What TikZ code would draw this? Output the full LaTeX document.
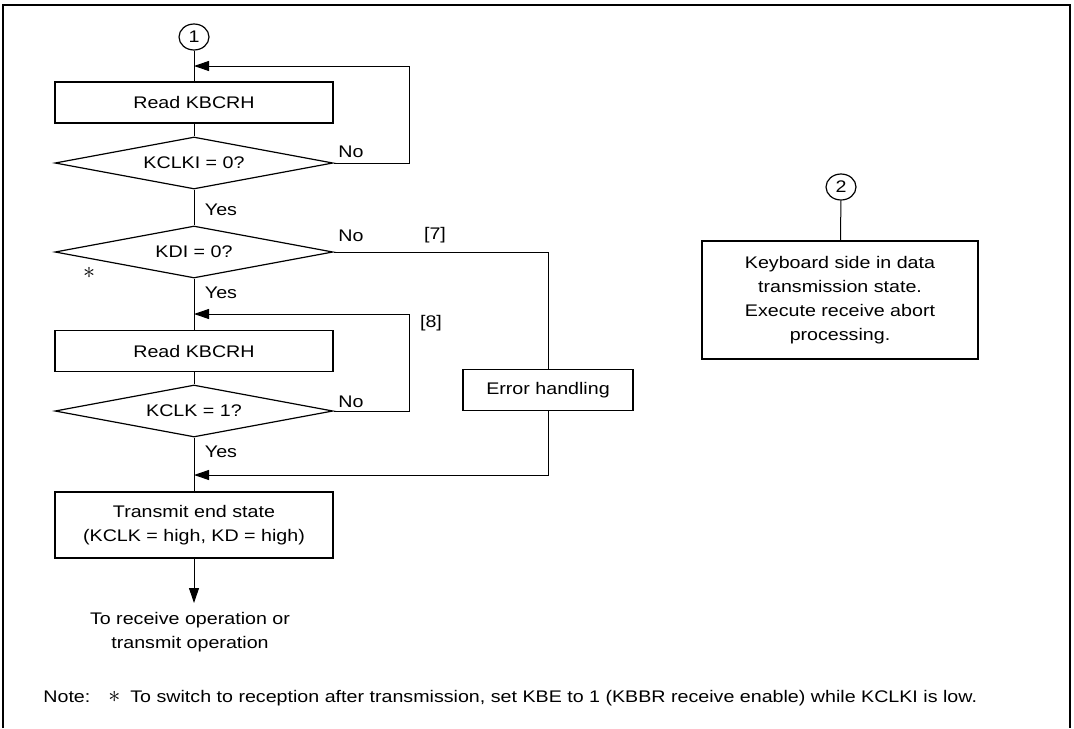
\documentclass[tikz,border=0pt]{standalone}
\usepackage{fontspec}
\setmainfont[FakeStretch=1.17]{Liberation Sans}
\usetikzlibrary{shapes.geometric, arrows.meta}

\begin{document}
\begin{tikzpicture}[
  x=0.5pt, y=-0.5pt,
  font=\fontsize{8.4}{12}\selectfont,
  proc/.style={rectangle, draw, line width=0.6pt, minimum width=139pt,
               minimum height=20.5pt, inner sep=2pt, align=center},
  decide/.style={diamond, draw, line width=0.6pt, aspect=5.35,
                 minimum width=139pt, minimum height=26pt, inner sep=0pt},
  conn/.style={ellipse, draw, line width=0.6pt, minimum width=15pt,
               minimum height=13pt, inner sep=0pt},
  flow/.style={line width=0.5pt},
  arr/.style={flow, -{Triangle[length=7.5pt, width=5pt]}},
  lbl/.style={inner sep=0pt},
  mark star/.style={inner sep=0pt, font=\large}
]
  \useasboundingbox (0,0) rectangle (1074,728);
  % Frame (open at the bottom)
  \draw[line width=1.3pt] (3,728) -- (3,5) -- (1070,5) -- (1070,728);

  % Main flow
  \node[conn] (c1) at (194,37) {1};
  \node[proc] (rd1) at (194,102.5) {Read KBCRH};
  \node[decide] (d1) at (194,163) {KCLKI = 0?};
  \node[decide] (d2) at (194,252) {KDI = 0?};
  \node[proc] (rd2) at (194,351) {Read KBCRH};
  \node[decide] (d3) at (194,411) {KCLK = 1?};
  \node[proc, minimum height=33pt] (te) at (194,525)
    {Transmit end state\\(KCLK = high, KD = high)};
  \node[lbl, align=center] (dest) at (190,632)
    {To receive operation or\\transmit operation};
  \node[proc, minimum width=85pt] (err) at (548,390) {Error handling};

  % Joins on the main line and loop corners
  \coordinate (j1) at (194,66);
  \coordinate (j2) at (194,314);
  \coordinate (j3) at (194,475);
  \coordinate (r1) at (409,163);
  \coordinate (r2) at (409,411);
  \coordinate (tail) at (194,603);

  \draw[flow] (c1) -- (rd1) -- (d1) -- (d2) -- (rd2) -- (d3) -- (te);
  \draw[arr] (te) -- (tail);
  \draw[arr] (d1.east) -- (r1) |- (j1);
  \draw[arr] (d3.east) -- (r2) |- (j2);
  \draw[flow] (d2.east) -| (err.north);
  \draw[arr] (err.south) |- (j3);

  % Branch labels
  \foreach \y/\n in {152/no1, 236/no2, 402/no3}{
    \node[lbl] (\n) at (351,\y) {No};
  }
  \foreach \y/\n in {210/yes1, 293/yes2, 452/yes3}{
    \node[lbl] (\n) at (221,\y) {Yes};
  }
  \node[lbl] (s7) at (435,235) {[7]};
  \node[lbl] (s8) at (431,323) {[8]};
  \node[mark star] (star) at (89,273) {$\ast$};

  % Entry 2
  \node[conn] (c2) at (841,187) {2};
  \node[proc, minimum width=138pt, minimum height=59pt] (abort) at (840,300)
    {Keyboard side in data\\transmission state.\\Execute receive abort\\processing.};
  \draw[flow] (c2) -- (abort);

  % Note
  \node[lbl, anchor=west] (note) at (43,698)
    {Note:\hspace{9pt}{\large$\ast$}\hspace{5pt}To switch to reception after transmission, set KBE to 1 (KBBR receive enable) while KCLKI is low.};
\end{tikzpicture}
\end{document}
